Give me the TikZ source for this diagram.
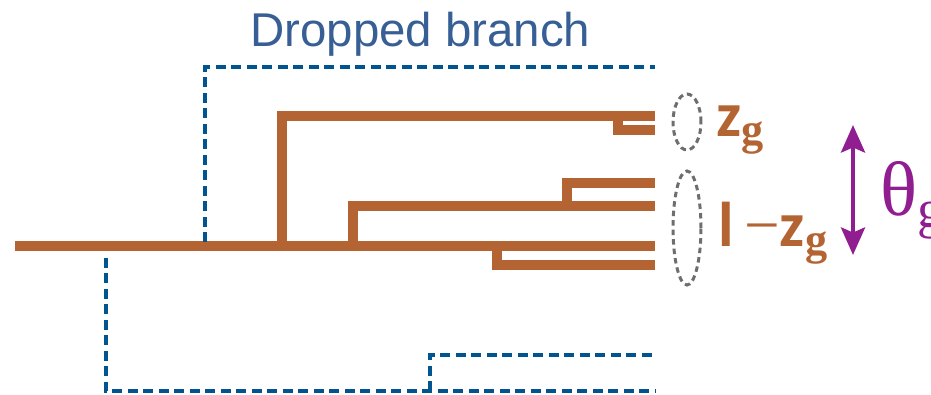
\documentclass[tikz,border=0pt]{standalone}
\usepackage{fontspec}
\setmainfont{Liberation Sans}
\newfontfamily\labelfont{Carlito}
\newfontfamily\greekfont{Liberation Serif}
\usetikzlibrary{arrows.meta,shapes.geometric}
\definecolor{limbcolor}{RGB}{180,100,50}
\definecolor{lostcolor}{RGB}{0,85,145}
\definecolor{titlecolor}{RGB}{55,95,150}
\definecolor{thetacolor}{RGB}{145,30,145}
\definecolor{groupcolor}{RGB}{110,110,110}

\begin{document}
\begin{tikzpicture}[x=0.02cm,y=-0.02cm]
\tikzstyle{limb} = [line width=0.2cm, color=limbcolor];
\tikzstyle{lost} = [line width=0.07cm, color=lostcolor,
            dash pattern=on 0.2cm off 0.11cm];
\tikzstyle{group} = [ellipse, draw=groupcolor, line width=0.06cm,
            dash pattern=on 0.11cm off 0.08cm, inner sep=0pt,
            minimum width=0.56cm];

    \useasboundingbox (0,0) rectangle (931,395);

    % kept tree
    \coordinate (root) at (15,246);
    \coordinate (tip) at (655,246);
    \coordinate (s1) at (282,246);
    \coordinate (s2) at (353,246);
    \coordinate (s3) at (497,246);
    \coordinate (l1) at (655,116);
    \coordinate (s4) at (618,116);
    \coordinate (l2) at (655,130);
    \coordinate (l3) at (655,206);
    \coordinate (s5) at (567,206);
    \coordinate (l4) at (655,183);
    \coordinate (l5) at (655,265);

    \draw[limb] (root) -- (tip);
    \draw[limb] (s1) |- (l1);
    \draw[limb] (s4) |- (l2);
    \draw[limb] (s2) |- (l3);
    \draw[limb] (s5) |- (l4);
    \draw[limb] (s3) |- (l5);

    % dropped lineages
    \coordinate (d1) at (205,242);
    \coordinate (d1e) at (655,67);
    \coordinate (d2) at (106,258);
    \coordinate (d2e) at (655,391);
    \coordinate (d3) at (430,391);
    \coordinate (d3e) at (655,355);
    \draw[lost] (d1) |- (d1e);
    \draw[lost] (d2) |- (d2e);
    \draw[lost] (d3) |- (d3e);

    \node (title) at (244,47) [anchor=base west, text=titlecolor]
        {\fontsize{27}{32}\selectfont Dropped branch};

    % leaf groups
    \node (top) at (687,122) [group, minimum height=1.12cm] {};
    \node (low) at (687,228) [group, minimum height=2.28cm] {};
    \node (zg) at (710,137) [anchor=base west, text=limbcolor]
        {\labelfont\bfseries\fontsize{36}{40}\selectfont z\textsubscript{\greekfont g}};
    \node (zr) at (712,247) [anchor=base west, text=limbcolor]
        {\labelfont\bfseries\fontsize{36}{40}\selectfont l\,{\greekfont\mdseries −}z\textsubscript{\greekfont g}};

    % sampling probability
    \coordinate (up) at (853,125);
    \coordinate (dn) at (853,255);
    \draw[{Stealth[length=0.55cm,width=0.48cm,inset=0.1cm]}-{Stealth[length=0.55cm,width=0.48cm,inset=0.1cm]},
        line width=0.08cm, thetacolor] (up) -- (dn);
    \node (theta) at (874,215) [anchor=base west, text=thetacolor]
        {\greekfont\fontsize{44}{50}\selectfont θ\textsubscript{g}};

\end{tikzpicture}
\end{document}
